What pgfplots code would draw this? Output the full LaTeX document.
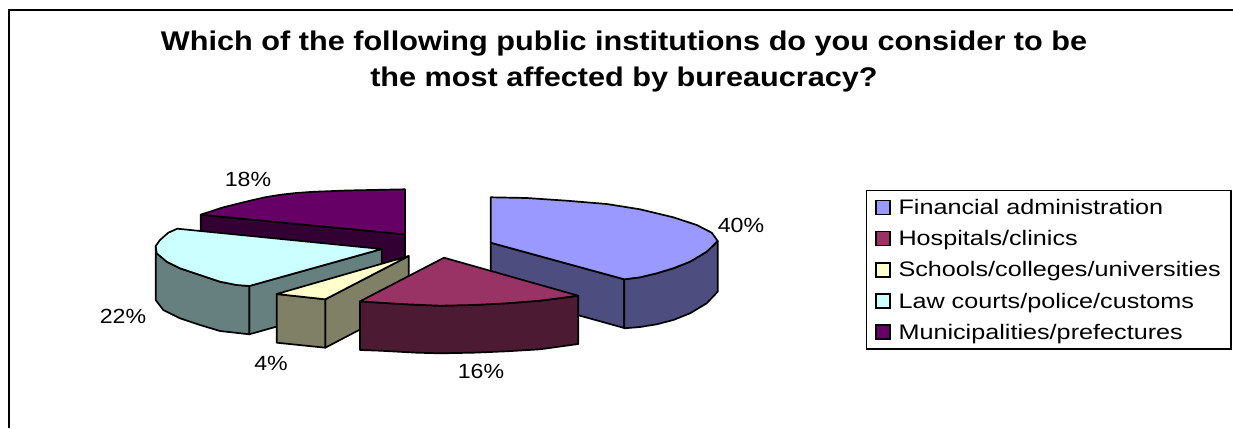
\documentclass[border=0pt]{standalone}
\usepackage{pgfplots}
\pgfplotsset{compat=1.18}
\usepackage{fontspec}
\setmainfont{Liberation Sans}
\newfontfamily\legendfont[FakeStretch=1.2]{Liberation Sans}
\newfontfamily\labelfont[FakeStretch=1.13]{Liberation Sans}
\newfontfamily\titlefont[FakeStretch=1.135]{Liberation Sans Bold}

% face colours and their shaded walls
\definecolor{finT}{HTML}{9999FF}\definecolor{finW}{HTML}{4D4D80}
\definecolor{hosT}{HTML}{993366}\definecolor{hosW}{HTML}{4D1A33}
\definecolor{schT}{HTML}{FFFFCC}\definecolor{schW}{HTML}{808066}
\definecolor{lawT}{HTML}{CCFFFF}\definecolor{lawW}{HTML}{668080}
\definecolor{munT}{HTML}{660066}\definecolor{munW}{HTML}{330033}

\pgfplotsset{
  face/.style={forget plot, draw=black, line width=1.7pt, line join=round, fill=#1},
  swatch/.style={draw=black, line width=1.3pt, fill=#1},
}

\begin{document}
\begin{tikzpicture}
\path[use as bounding box] (0,0) rectangle (1233pt,428pt);
\begin{axis}[
  at={(0,0)}, anchor=south west,
  width=1233pt, height=428pt, scale only axis,
  xmin=0, xmax=1233, ymin=0, ymax=428, y dir=reverse,
  axis lines=none, clip=true,
  legend image code/.code={\draw[#1] (0pt,-7pt) rectangle (14pt,7pt);},
  legend style={
    at={(axis cs:866,190)}, anchor=north west,
    draw=black, line width=1.4pt, fill=white,
    font={\legendfont\fontsize{21}{22}\selectfont},
    cells={anchor=west}, row sep=9.1pt, column sep=6pt, inner xsep=8.5pt, inner ysep=6pt,
    nodes={text height=16pt, text depth=2pt, inner sep=2pt},
  },
]
\addlegendimage{swatch=finT}\addlegendentry{Financial administration}
\addlegendimage{swatch=hosT}\addlegendentry{Hospitals/clinics}
\addlegendimage{swatch=schT}\addlegendentry{Schools/colleges/universities}
\addlegendimage{swatch=lawT}\addlegendentry{Law courts/police/customs}
\addlegendimage{swatch=munT}\addlegendentry{Municipalities/prefectures}

% chart frame: left and top edges
\addplot[forget plot, draw=black, line width=2.2pt] coordinates {(9,428) (9,10) (1233,10)};

% Municipalities/prefectures, 18%
\addplot[face=munW] coordinates {(200.7,214.7) (405,234.3) (405,283) (200.7,263.7)} -- cycle;
\addplot[face=munT] coordinates {(405,189.3) (405,234.3) (200.7,214.7) (223.3,207.3) (250,200.7) (265,197.3) (280,194.8) (296,193) (313.3,191.8) (346.7,190.5)} -- cycle;

% Law courts/police/customs, 22%
\addplot[face=lawW] coordinates {(381.7,249) (381.7,297) (249.3,334.3) (249.3,286)} -- cycle;
\addplot[face=lawW] coordinates {(155.7,246) (156.7,253.3) (166.7,261.7) (180,268.3) (200,275) (220,281.7) (236.7,285) (249.3,286) (249.3,334.3) (220,331) (200,325) (180,318.3) (163.3,310) (155.7,300)} -- cycle;
\addplot[face=lawT] coordinates {(381.7,249) (249.3,286) (236.7,285) (220,281.7) (200,275) (180,268.3) (166.7,261.7) (156.7,253.3) (155.7,246) (160,240) (168.3,232.7) (177.3,228.7)} -- cycle;

% Schools/colleges/universities, 4%
\addplot[face=schW] coordinates {(408.7,256) (408.7,304) (325.3,347.7) (325.3,299.3)} -- cycle;
\addplot[face=schW] coordinates {(276.7,294) (325.3,299.3) (325.3,347.7) (276.7,342.7)} -- cycle;
\addplot[face=schT] coordinates {(408.7,256) (325.3,299.3) (276.7,294)} -- cycle;

% Financial administration, 40%
\addplot[face=finW] coordinates {(490.7,242.7) (624.3,279.3) (624.3,328) (490.7,291)} -- cycle;
\addplot[face=finW] coordinates {(624.3,279.3) (640,277.3) (656.7,273.3) (673.3,268.3) (690,261.7) (706.7,251.7) (717.7,241) (717.7,291.7) (706.7,303.3) (690,313.3) (673.3,320) (656.7,324.3) (640,327) (624.3,328.3)} -- cycle;
\addplot[face=finT] coordinates {(490.7,197.3) (526.7,198) (566.7,200.7) (606.7,204) (640,209.3) (673.3,217.3) (696.7,225) (711.7,232.7) (717.7,241) (706.7,251.7) (690,261.7) (673.3,268.3) (656.7,273.3) (640,277.3) (624.3,279.3) (490.7,242.7)} -- cycle;

% Hospitals/clinics, 16%
\addplot[face=hosW] coordinates {(578.3,295.7) (540,300.7) (506.7,303.3) (473.3,305) (440,305.7) (406.7,304.3) (380,302.7) (360,301.3) (360,350) (380,350.7) (416.7,352.7) (440,353.3) (473.3,352.7) (506.7,351.3) (540,349.3) (578.3,344)} -- cycle;
\addplot[face=hosT] coordinates {(444,257.7) (578.3,295.7) (540,300.7) (506.7,303.3) (473.3,305) (440,305.7) (406.7,304.3) (380,302.7) (360,301.3)} -- cycle;

% share labels
\begin{scope}[every node/.style={font={\labelfont\fontsize{20.5}{22}\selectfont}}]
\node at (axis cs:741,225) {40\%};
\node at (axis cs:481,371) {16\%};
\node at (axis cs:271,363) {4\%};
\node at (axis cs:123,316) {22\%};
\node at (axis cs:248,179) {18\%};
\end{scope}

% title
\node[align=center, font={\titlefont\fontsize{27}{35.5}\selectfont}] at (axis cs:624,61.5)
  {Which of the following public institutions do you consider to be\\the most affected by bureaucracy?};
\end{axis}
\end{tikzpicture}
\end{document}
